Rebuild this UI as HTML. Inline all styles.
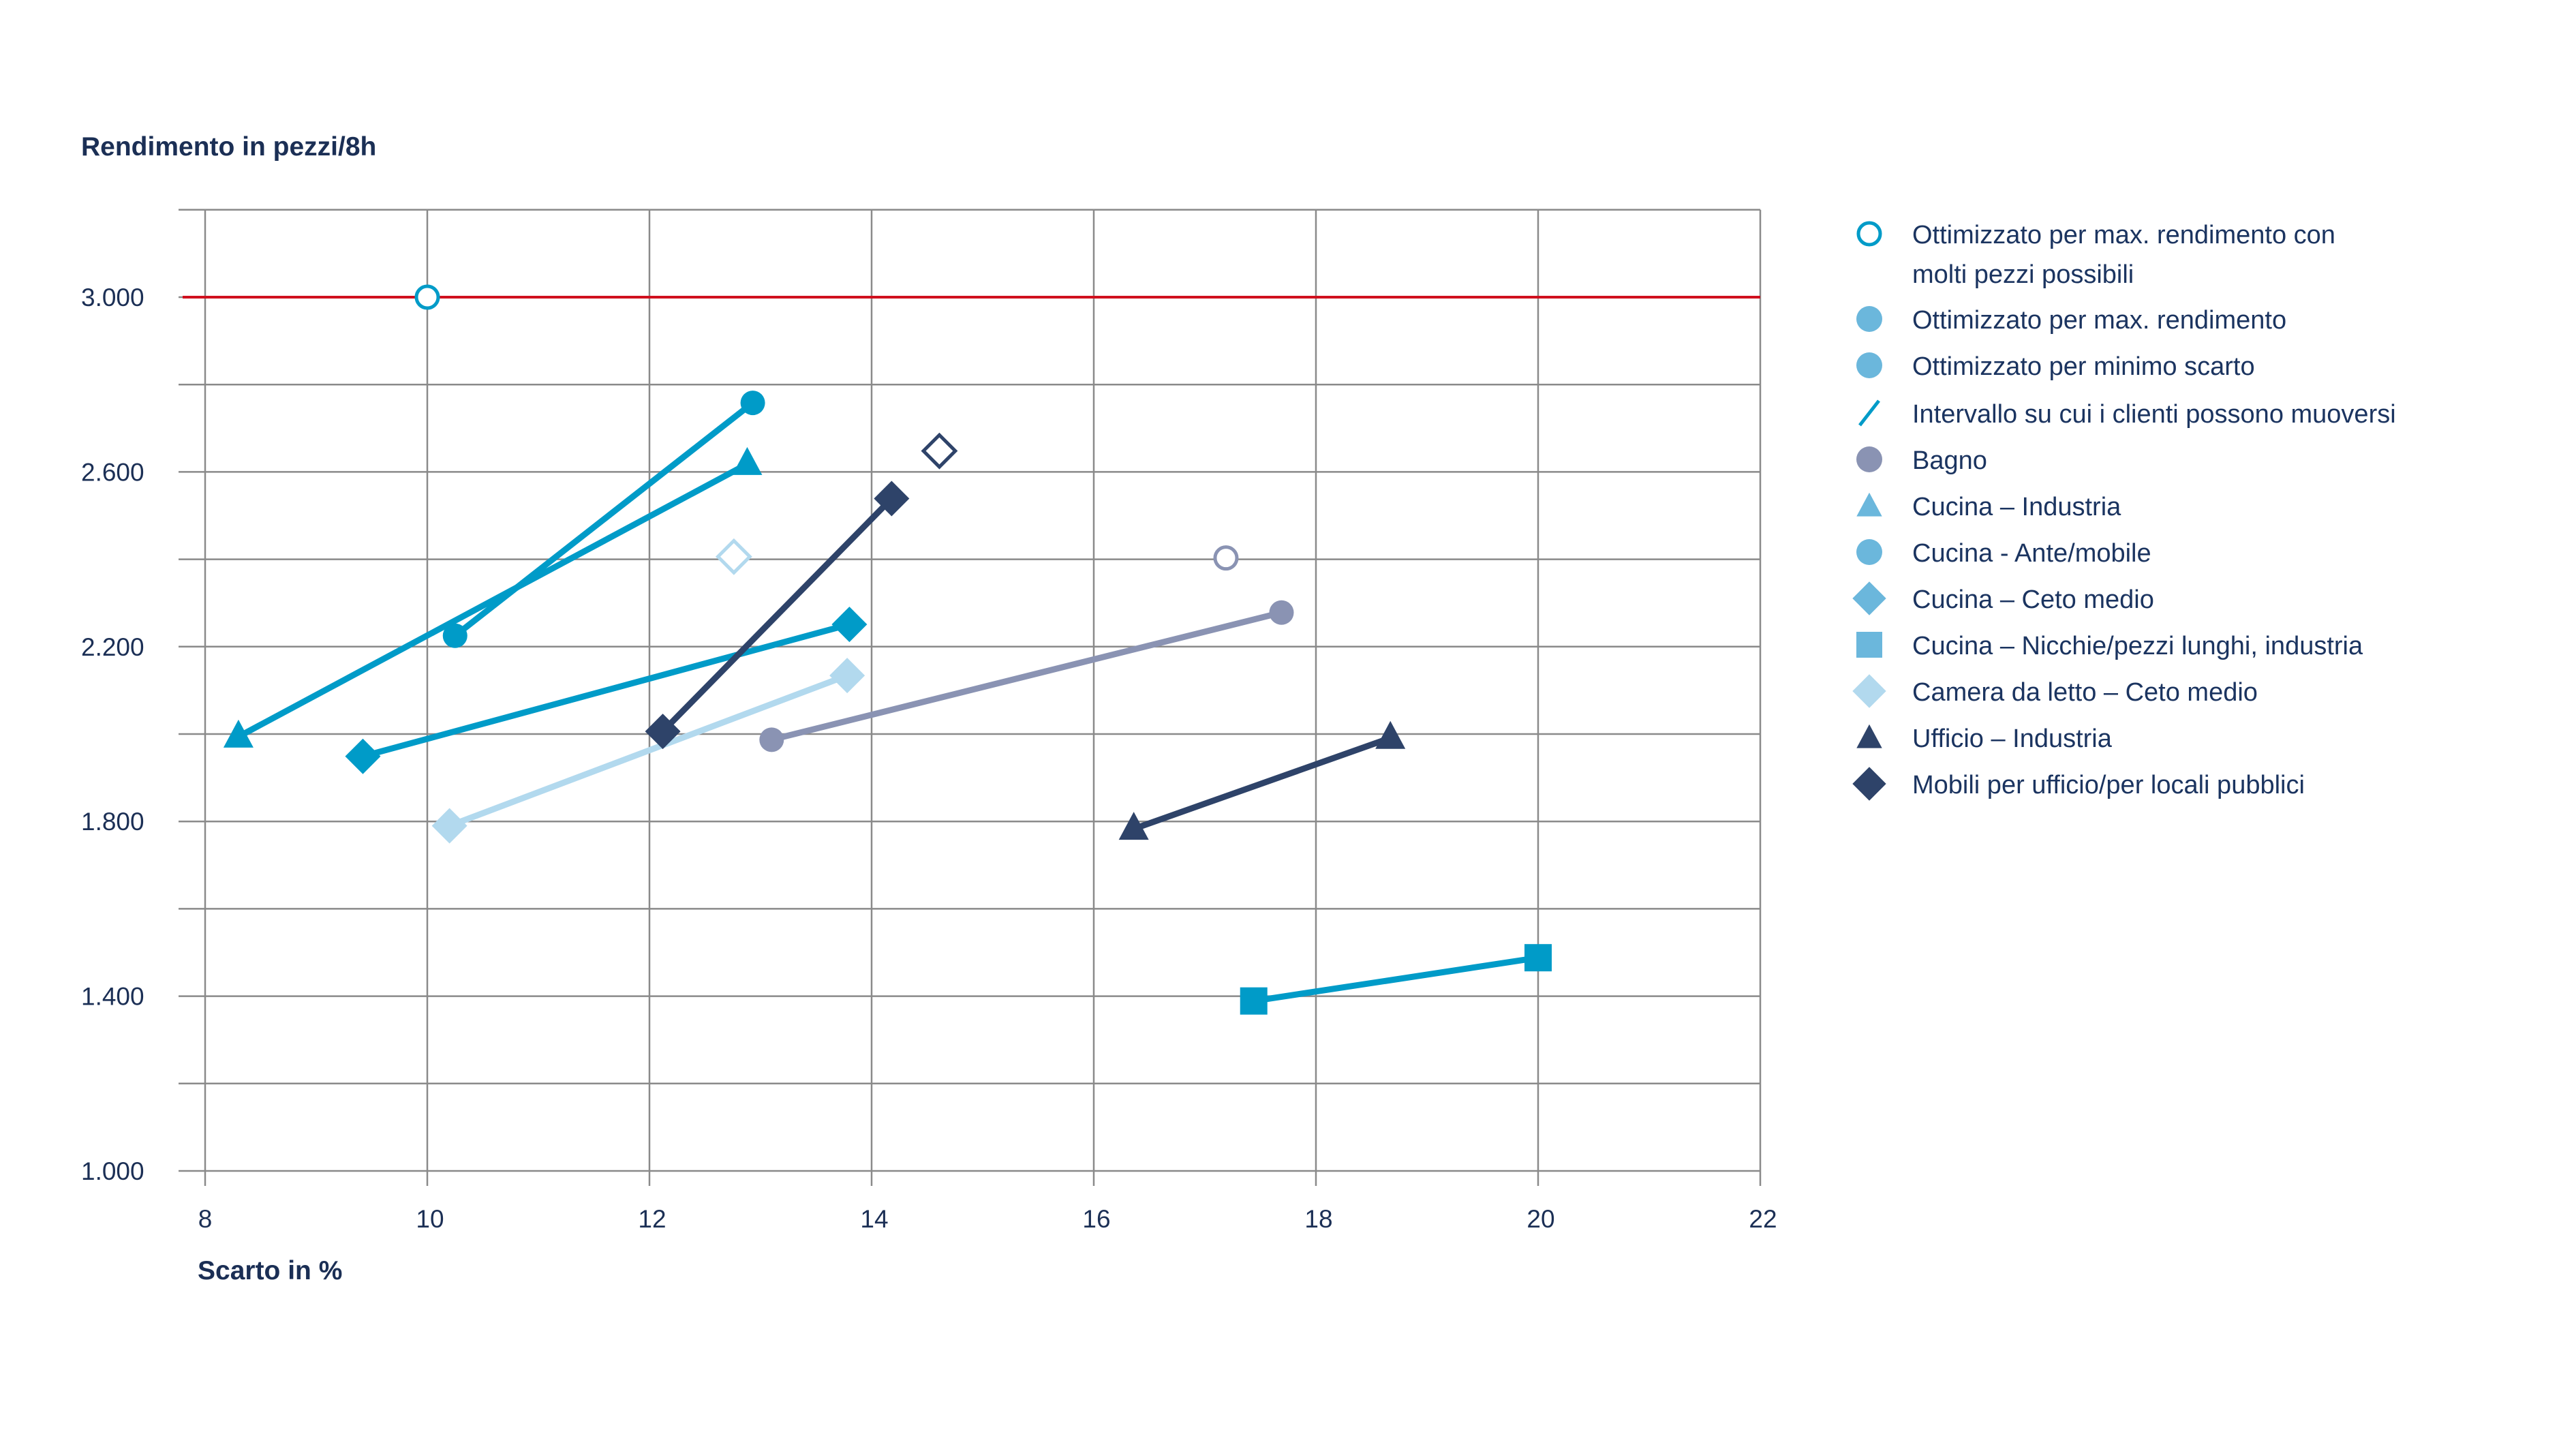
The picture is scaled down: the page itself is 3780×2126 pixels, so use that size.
<!DOCTYPE html>
<html><head><meta charset="utf-8"><style>
html,body{margin:0;padding:0;background:#fff;}
svg{display:block;font-family:"Liberation Sans",Arial,sans-serif;}
</style></head><body>
<svg id="chart" width="3780" height="2126" viewBox="0 0 3780 2126" xmlns="http://www.w3.org/2000/svg">
<rect width="3780" height="2126" fill="#fff"/>
<text x="119" y="228" font-size="39" font-weight="bold" fill="#1b2f55">Rendimento in pezzi/8h</text>
<text x="290" y="1877" font-size="39" font-weight="bold" fill="#1b2f55">Scarto in %</text>
<g id="grid"></g>
<g id="series"></g>
<g id="legend"></g>
</svg>
<script>
const xTicks = [8,10,12,14,16,18,20,22];
const yGrid = [1000,1200,1400,1600,1800,2000,2200,2400,2600,2800,3000,3200];
const yLabels = ["1.000","1.400","1.800","2.200","2.600","3.000"];
const yLabelValues = [1000,1400,1800,2200,2600,3000];
const refLine = 3000;
const seriesNames = ["cucina-ante-mobile","cucina-industria","cucina-ceto-medio","camera-letto","mobili-ufficio","bagno","ufficio-industria","cucina-nicchie"];
const seriesX = [[10.25,12.93],[8.3,12.88],[9.42,13.8],[10.2,13.78],[12.12,14.18],[13.1,17.69],[16.36,18.67],[17.44,20.0]];
const seriesY = [[2225,2758],[1994,2618],[1949,2251],[1790,2134],[2006,2539],[1987,2278],[1783,1991],[1389,1488]];
const openNames = ["max-rendimento-molti-pezzi","camera-letto-open","mobili-ufficio-open","bagno-open"];
const openX = [10,12.76,14.61,17.19];
const openY = [3000,2406,2648,2403];
const legendLabels = [["Ottimizzato per max. rendimento con","molti pezzi possibili"],["Ottimizzato per max. rendimento"],["Ottimizzato per minimo scarto"],["Intervallo su cui i clienti possono muoversi"],["Bagno"],["Cucina – Industria"],["Cucina - Ante/mobile"],["Cucina – Ceto medio"],["Cucina – Nicchie/pezzi lunghi, industria"],["Camera da letto – Ceto medio"],["Ufficio – Industria"],["Mobili per ufficio/per locali pubblici"]];

const NS="http://www.w3.org/2000/svg";
const X0=301, PX=163, Y0=1718, PY=0.641;
const sx=v=>X0+(v-8)*PX;
const sy=v=>Y0-(v-1000)*PY;
function mk(tag,attrs,parent){const e=document.createElementNS(NS,tag);for(const k in attrs)e.setAttribute(k,attrs[k]);parent.appendChild(e);return e;}
const grid=document.getElementById('grid');
yGrid.forEach(v=>{
  const l=mk('line',{x1:262,x2:sx(22),y1:sy(v),y2:sy(v),stroke:'#8a8a8a','stroke-width':2.5},grid);
  
  
});
xTicks.forEach(v=>{
  const l=mk('line',{x1:sx(v),x2:sx(v),y1:sy(3200),y2:sy(1000)+22,stroke:'#8a8a8a','stroke-width':2.5},grid);
  
  
  const t=mk('text',{x:sx(v)+(v>=10?4:0),y:1801,'font-size':37,fill:'#1b2f55','text-anchor':'middle'},grid);
  t.textContent=v;
  
  
});
yLabelValues.forEach((v,i)=>{
  const t=mk('text',{x:119,y:sy(v)+13,'font-size':37,fill:'#1b2f55'},grid);
  t.textContent=yLabels[i];
  
  
});
const rl=mk('line',{x1:268,x2:sx(22),y1:sy(refLine),y2:sy(refLine),stroke:'#d0101e','stroke-width':4},grid);



const C='#009bc8', L='#b2d9ee', N='#2e4369', B='#8a93b3';
const colors=[C,C,C,L,N,B,N,C];
const shapes=['circle','tri','diamond','diamond','diamond','circle','tri','square'];
function marker(shape,x,y,col,size,parent,fill){
  let e;
  if(shape==='circle') e=mk('circle',{cx:x,cy:y,r:size},parent);
  else if(shape==='tri') e=mk('polygon',{points:`${x},${y-size*1.25} ${x+size*1.1},${y+size*0.8} ${x-size*1.1},${y+size*0.8}`},parent);
  else if(shape==='diamond') e=mk('polygon',{points:`${x},${y-size*1.3} ${x+size*1.3},${y} ${x},${y+size*1.3} ${x-size*1.3},${y}`},parent);
  else e=mk('rect',{x:x-size,y:y-size,width:size*2,height:size*2},parent);
  if(fill){e.setAttribute('fill',col);}else{e.setAttribute('fill','#fff');e.setAttribute('stroke',col);e.setAttribute('stroke-width',5);}
  return e;
}
const sg=document.getElementById('series');
seriesNames.forEach((n,i)=>{
  const g=mk('g',{},sg);
  
  
  const l=mk('line',{x1:sx(seriesX[i][0]),y1:sy(seriesY[i][0]),x2:sx(seriesX[i][1]),y2:sy(seriesY[i][1]),stroke:colors[i],'stroke-width':9},g);
  
  
  for(let k=0;k<2;k++){
    const m=marker(shapes[i],sx(seriesX[i][k]),sy(seriesY[i][k]),colors[i],shapes[i]==='circle'?18:20,g,true);
    
    
  }
});
const openCol=[C,L,N,B], openShape=['circle','diamond','diamond','circle'];
openNames.forEach((n,i)=>{
  const m=marker(openShape[i],sx(openX[i]),sy(openY[i]),openCol[i],openShape[i]==='circle'?16:18,sg,false);
  
  
});
const lg=document.getElementById('legend');
const legRowY=[343,468,536,606,674,742,810,878,946,1014,1082,1150];
const legShape=['ocircle','circle','circle','slash','circle','tri','circle','diamond','square','diamond','tri','diamond'];
const legCol=[C,'#6bb7dc','#6bb7dc',C,B,'#6bb7dc','#6bb7dc','#6bb7dc','#6bb7dc',L,N,N];
legendLabels.forEach((lab,i)=>{
  const g=mk('g',{},lg);
  
  
  const y=legRowY[i], x=2743;
  if(legShape[i]==='ocircle') marker('circle',x,y,legCol[i],16,g,false);
  else if(legShape[i]==='slash') mk('line',{x1:x-14,y1:y+18,x2:x+14,y2:y-18,stroke:legCol[i],'stroke-width':5},g);
  else if(legShape[i]==='circle') marker('circle',x,y,legCol[i],19,g,true);
  else if(legShape[i]==='tri') marker('tri',x,y+2,legCol[i],17,g,true);
  else if(legShape[i]==='diamond') marker('diamond',x,y,legCol[i],19,g,true);
  else marker('square',x,y,legCol[i],19,g,true);
  lab.forEach((s,j)=>{
    const t=mk('text',{x:2806,y:y+14+j*58,'font-size':38,fill:'#1b3460'},g);
    t.textContent=s;
  });
});
</script>
</body></html>
